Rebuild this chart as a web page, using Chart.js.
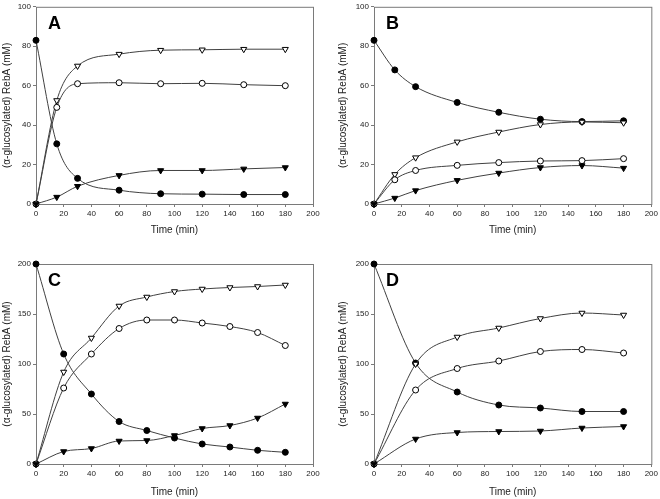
<!DOCTYPE html>
<html>
<head>
<meta charset="utf-8">
<script src="https://cdn.jsdelivr.net/npm/chart.js@4.4.0/dist/chart.umd.min.js"></script>
<style>
  body { margin: 0; background: #fff; }
  .panel { position: absolute; }
</style>
</head>
<body>
<canvas id="panelA" class="panel" width="330" height="250" style="left:0px;top:0px;"></canvas>
<canvas id="panelB" class="panel" width="330" height="250" style="left:330px;top:0px;"></canvas>
<canvas id="panelC" class="panel" width="330" height="249" style="left:0px;top:250px;"></canvas>
<canvas id="panelD" class="panel" width="330" height="249" style="left:330px;top:250px;"></canvas>
<script>
// time points (min)
const timeAB = [0, 15, 30, 60, 90, 120, 150, 180];
const timeC = [0, 20, 40, 60, 80, 100, 120, 140, 160, 180];
const timeD = [0, 30, 60, 90, 120, 150, 180];

// panel A
const rebA_A = [83, 30.5, 13, 7, 5.2, 5, 4.8, 4.8];
const openTri_A = [0, 52.5, 70, 76, 78, 78.2, 78.5, 78.5];
const openCirc_A = [0, 49, 61, 61.5, 61, 61.2, 60.5, 60];
const fillTri_A = [0, 3.5, 9, 14.5, 17, 17, 17.8, 18.5];

// panel B
const rebA_B = [83, 68, 59.5, 51.5, 46.5, 43, 41.8, 42.2];
const openTri_B = [0, 15, 23.5, 31.5, 36.5, 40.3, 41.6, 41.2];
const openCirc_B = [0, 12.3, 17, 19.6, 21, 21.8, 22, 23];
const fillTri_B = [0, 3, 6.8, 12, 15.7, 18.5, 19.5, 18.2];

// panel C
const rebA_C = [200, 110, 70, 42.5, 33.5, 26, 20, 17, 13.7, 11.7];
const openTri_C = [0, 92, 126, 158, 167, 172.5, 175, 176.5, 177.5, 179];
const openCirc_C = [0, 76, 110, 135.5, 144, 144, 141, 137.5, 131.5, 118.5];
const fillTri_C = [0, 12.5, 15.5, 23, 23.5, 28.5, 35.5, 38.5, 46, 60];

// panel D
const rebA_D = [200, 101, 72, 59, 56, 52.5, 52.5];
const openTri_D = [0, 100, 127, 136, 145.5, 151, 149];
const openCirc_D = [0, 74, 95.5, 103, 112.5, 114.5, 111];
const fillTri_D = [0, 25, 31.5, 32.5, 33, 36, 37.5];

const xTicks = [0, 20, 40, 60, 80, 100, 120, 140, 160, 180, 200];
const xTitle = 'Time (min)';
const yTitle = '(\u03b1-glucosylated) RebA (mM)';

const FONT = '"Liberation Sans", Arial, sans-serif';
const FRAME = '#7a7a7a';

function toPoints(xs, ys) {
    return xs.map((x, i) => ({ x: x, y: ys[i] }));
}

function series(xs, ys, style, filled) {
    return {
        data: toPoints(xs, ys),
        borderColor: '#404040',
        borderWidth: 1,
        cubicInterpolationMode: 'monotone',
        pointStyle: style,
        rotation: style === 'triangle' ? 180 : 0,
        pointRadius: style === 'triangle' ? 3.5 : 3,
        pointBorderColor: '#000',
        pointBorderWidth: 1,
        pointBackgroundColor: filled ? '#000' : '#fff',
        clip: false
    };
}

const framePlugin = {
    id: 'frame',
    beforeDatasetsDraw(chart) {
        const a = chart.chartArea;
        const ctx = chart.ctx;
        ctx.save();
        ctx.strokeStyle = FRAME;
        ctx.lineWidth = 1;
        ctx.strokeRect(a.left + 0.5, a.top + 0.5, a.right - a.left, a.bottom - a.top);
        ctx.restore();
    },
    afterDraw(chart, args, opts) {
        const a = chart.chartArea;
        const ctx = chart.ctx;
        ctx.save();
        ctx.fillStyle = '#000';
        ctx.font = 'bold 18px ' + FONT;
        ctx.textBaseline = 'alphabetic';
        ctx.fillText(opts.letter, a.left + 12, a.top + 22);
        ctx.restore();
    }
};

function makePanel(id, letter, xs, rebA, openTri, openCirc, fillTri, yMax, yStep, geo) {
    const ctx = document.getElementById(id).getContext('2d');
    return new Chart(ctx, {
        type: 'line',
        data: {
            datasets: [
                series(xs, fillTri, 'triangle', true),
                series(xs, openCirc, 'circle', false),
                series(xs, openTri, 'triangle', false),
                series(xs, rebA, 'circle', true)
            ]
        },
        options: {
            responsive: false,
            animation: false,
            devicePixelRatio: 1,
            layout: { padding: { top: geo.top, right: geo.right, bottom: 0, left: 0 } },
            plugins: {
                legend: { display: false },
                tooltip: { enabled: false },
                frame: { letter: letter }
            },
            scales: {
                x: {
                    type: 'linear',
                    min: 0,
                    max: 200,
                    afterFit: s => { s.height = geo.xh; },
                    afterBuildTicks: s => { s.ticks = xTicks.map(v => ({ value: v })); },
                    border: { display: false },
                    grid: { drawOnChartArea: false, drawTicks: true, tickLength: 3, color: FRAME },
                    ticks: { color: '#222', padding: 2, maxRotation: 0, font: { family: FONT, size: 8 } },
                    title: {
                        display: true,
                        text: xTitle,
                        color: '#222',
                        font: { family: FONT, size: 10 },
                        padding: { top: 0, bottom: geo.xtb }
                    }
                },
                y: {
                    min: 0,
                    max: yMax,
                    afterFit: s => { s.width = geo.yw; },
                    border: { display: false },
                    grid: { drawOnChartArea: false, drawTicks: true, tickLength: 3, color: FRAME },
                    ticks: { stepSize: yStep, color: '#222', padding: 2, font: { family: FONT, size: 8 } },
                    title: {
                        display: true,
                        text: yTitle,
                        color: '#222',
                        font: { family: FONT, size: 10 },
                        padding: { top: geo.ytp, bottom: 0 }
                    }
                }
            }
        },
        plugins: [framePlugin]
    });
}

makePanel('panelA', 'A', timeAB, rebA_A, openTri_A, openCirc_A, fillTri_A, 100, 20,
    { top: 5, right: 17, xh: 46, yw: 36, xtb: 14, ytp: 1 });
makePanel('panelB', 'B', timeAB, rebA_B, openTri_B, openCirc_B, fillTri_B, 100, 20,
    { top: 5, right: 8, xh: 46, yw: 44, xtb: 14, ytp: 7 });
makePanel('panelC', 'C', timeC, rebA_C, openTri_C, openCirc_C, fillTri_C, 200, 50,
    { top: 14, right: 17, xh: 35, yw: 36, xtb: 1, ytp: 1 });
makePanel('panelD', 'D', timeD, rebA_D, openTri_D, openCirc_D, fillTri_D, 200, 50,
    { top: 14, right: 8, xh: 35, yw: 44, xtb: 1, ytp: 7 });
</script>
</body>
</html>
